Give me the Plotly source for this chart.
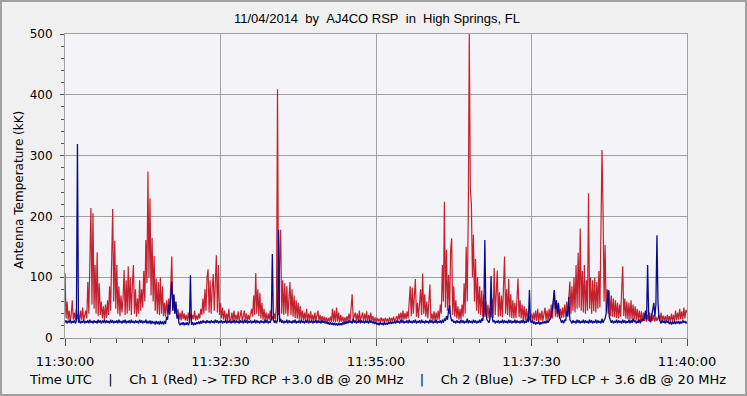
import plotly.graph_objects as go

# Time axis: seconds after 11:30:00 UTC (1 sample per second)
seconds = list(range(0, 601))

# Ch 1 (Red) antenna temperature (kK), one list per minute
red_1130 = [107, 32, 60, 30, 45, 28, 38, 62, 30, 42,
            29, 48, 31, 40, 28, 45, 30, 50, 29, 38,
            45, 32, 92, 40, 150, 214, 55, 205, 48, 120,
            40, 141, 36, 90, 38, 60, 32, 52, 30, 55,
            33, 62, 38, 85, 45, 150, 212, 60, 160, 48,
            120, 40, 85, 36, 70, 42, 65, 112, 38, 95]
red_1131 = [40, 118, 45, 100, 38, 88, 120, 40, 80, 35,
            65, 40, 95, 45, 80, 50, 110, 60, 161, 90,
            274, 100, 230, 70, 165, 60, 135, 45, 98, 40,
            92, 38, 100, 40, 85, 36, 58, 35, 62, 40,
            65, 38, 80, 134, 45, 70, 40, 55, 35, 48,
            30, 42, 29, 45, 31, 40, 29, 38, 28, 42]
red_1132 = [30, 40, 28, 38, 31, 45, 29, 37, 30, 40,
            32, 48, 38, 65, 40, 80, 45, 100, 113, 42,
            95, 40, 82, 105, 45, 90, 136, 42, 120, 38,
            57, 32, 50, 30, 45, 29, 40, 28, 48, 30,
            29, 42, 28, 45, 30, 38, 29, 44, 28, 36,
            46, 28, 37, 45, 29, 40, 28, 38, 30, 42]
red_1133 = [48, 35, 70, 38, 107, 40, 80, 36, 74, 32,
            58, 30, 48, 29, 42, 28, 40, 30, 45, 29,
            36, 28, 40, 30, 55, 409, 38, 120, 178, 40,
            95, 38, 90, 40, 85, 36, 78, 92, 38, 80,
            35, 70, 33, 62, 32, 58, 30, 52, 30, 45,
            29, 42, 28, 48, 29, 40, 28, 44, 29, 38]
red_1134 = [28, 42, 29, 37, 45, 28, 38, 27, 36, 28,
            35, 27, 34, 26, 33, 27, 35, 26, 48, 27,
            45, 26, 50, 27, 42, 26, 38, 27, 35, 26,
            34, 27, 36, 28, 40, 28, 45, 72, 30, 38,
            42, 28, 40, 27, 45, 28, 38, 42, 28, 40,
            29, 44, 28, 38, 29, 42, 28, 36, 27, 34]
red_1135 = [26, 33, 27, 32, 26, 34, 27, 32, 26, 33,
            27, 32, 26, 34, 27, 33, 28, 35, 27, 34,
            36, 28, 40, 30, 42, 29, 45, 30, 41, 31,
            44, 32, 62, 85, 36, 83, 40, 70, 97, 35,
            58, 33, 62, 80, 38, 106, 40, 72, 35, 60,
            32, 62, 88, 30, 40, 29, 44, 28, 42, 30]
red_1136 = [45, 30, 55, 40, 120, 60, 224, 50, 145, 45,
            104, 40, 145, 164, 38, 85, 35, 62, 32, 52,
            30, 48, 31, 55, 35, 90, 40, 150, 60, 200,
            500, 245, 222, 100, 170, 60, 130, 45, 100, 40,
            85, 38, 78, 36, 72, 35, 60, 33, 55, 32,
            50, 35, 65, 33, 115, 38, 80, 111, 35, 75]
red_1137 = [36, 70, 34, 88, 134, 40, 80, 38, 97, 35,
            72, 33, 62, 32, 58, 33, 75, 98, 34, 62,
            32, 55, 30, 52, 29, 48, 30, 45, 29, 36,
            40, 28, 42, 29, 45, 28, 48, 27, 42, 29,
            45, 28, 42, 50, 29, 45, 28, 48, 30, 55,
            32, 60, 78, 35, 62, 34, 55, 32, 48, 33]
red_1138 = [50, 34, 55, 36, 60, 38, 65, 93, 40, 85,
            45, 100, 42, 120, 48, 140, 50, 180, 45, 110,
            42, 120, 40, 95, 45, 238, 48, 100, 40, 95,
            44, 99, 42, 92, 48, 110, 50, 150, 309, 210,
            60, 153, 45, 80, 40, 78, 36, 70, 35, 65,
            34, 62, 33, 58, 32, 55, 35, 80, 118, 36]
red_1139 = [65, 32, 60, 31, 58, 30, 62, 31, 55, 30,
            52, 29, 48, 28, 45, 28, 44, 27, 42, 28,
            40, 27, 38, 28, 42, 27, 40, 28, 38, 27,
            35, 28, 33, 38, 28, 42, 27, 37, 28, 36,
            28, 38, 27, 36, 28, 40, 27, 38, 28, 45,
            29, 42, 30, 48, 31, 44, 30, 50, 32, 46,
            42]

# Ch 2 (Blue) antenna temperature (kK), one list per minute
blue_1130 = [25, 29, 24, 28, 26, 30, 24, 28, 25, 29,
             24, 28, 319, 25, 29, 24, 28, 25, 30, 24,
             28, 25, 29, 24, 30, 25, 28, 24, 29, 25,
             28, 24, 30, 25, 29, 24, 28, 26, 30, 24,
             29, 25, 28, 24, 30, 25, 29, 24, 28, 25,
             29, 24, 30, 25, 28, 24, 29, 25, 30, 24]
blue_1131 = [28, 25, 29, 24, 30, 25, 28, 24, 29, 25,
             28, 24, 30, 25, 29, 24, 28, 25, 30, 24,
             28, 24, 29, 23, 28, 24, 27, 22, 28, 23,
             27, 22, 28, 23, 27, 22, 28, 23, 35, 30,
             55, 40, 70, 93, 45, 72, 40, 60, 32, 38,
             24, 21, 25, 22, 26, 21, 25, 22, 26, 21]
blue_1132 = [25, 103, 22, 26, 21, 25, 22, 26, 23, 27,
             23, 28, 24, 29, 25, 28, 24, 29, 25, 28,
             24, 29, 25, 28, 24, 30, 25, 29, 24, 28,
             25, 29, 24, 28, 25, 30, 24, 28, 25, 29,
             24, 28, 25, 30, 24, 29, 25, 28, 24, 29,
             25, 28, 24, 30, 25, 29, 24, 28, 25, 29]
blue_1133 = [24, 28, 25, 30, 24, 29, 25, 28, 24, 29,
             25, 28, 24, 30, 25, 29, 24, 28, 25, 32,
             138, 30, 25, 29, 24, 30, 178, 26, 32, 25,
             29, 24, 28, 25, 30, 24, 29, 25, 28, 24,
             29, 25, 30, 24, 28, 25, 29, 24, 30, 25,
             28, 24, 29, 25, 30, 24, 28, 25, 29, 24]
blue_1134 = [28, 25, 30, 24, 29, 25, 28, 24, 29, 25,
             28, 24, 27, 23, 26, 22, 26, 22, 25, 21,
             25, 21, 24, 20, 25, 21, 24, 21, 26, 22,
             27, 23, 28, 24, 29, 25, 28, 24, 32, 25,
             29, 24, 28, 25, 30, 24, 29, 25, 28, 24,
             29, 25, 28, 24, 30, 25, 28, 24, 27, 23]
blue_1135 = [26, 22, 25, 21, 26, 22, 25, 21, 26, 22,
             25, 22, 26, 23, 27, 23, 27, 24, 28, 24,
             29, 25, 28, 24, 30, 25, 29, 24, 28, 25,
             29, 24, 30, 25, 28, 24, 29, 25, 30, 24,
             28, 25, 29, 24, 30, 25, 28, 24, 29, 25,
             28, 24, 30, 25, 29, 24, 28, 25, 30, 24]
blue_1136 = [28, 25, 29, 24, 30, 25, 32, 28, 36, 30,
             45, 54, 35, 28, 30, 25, 28, 24, 29, 25,
             28, 24, 30, 25, 29, 24, 28, 25, 32, 24,
             29, 25, 28, 24, 30, 25, 29, 24, 28, 25,
             30, 25, 32, 28, 45, 161, 40, 30, 28, 25,
             32, 102, 35, 26, 29, 24, 28, 25, 29, 24]
blue_1137 = [28, 25, 30, 24, 29, 25, 28, 24, 30, 25,
             29, 24, 28, 25, 30, 24, 29, 25, 28, 24,
             29, 25, 30, 24, 28, 25, 32, 26, 79, 28,
             25, 29, 23, 27, 22, 26, 23, 27, 22, 26,
             23, 27, 24, 28, 24, 29, 25, 28, 32, 35,
             45, 60, 79, 48, 62, 40, 58, 35, 30, 25]
blue_1138 = [29, 24, 30, 28, 45, 35, 68, 30, 28, 24,
             29, 25, 28, 24, 30, 25, 29, 24, 28, 25,
             30, 24, 29, 25, 28, 24, 30, 25, 29, 24,
             28, 25, 30, 24, 29, 25, 28, 24, 32, 25,
             29, 32, 40, 55, 79, 35, 28, 25, 29, 24,
             28, 25, 30, 24, 29, 25, 28, 24, 30, 25]
blue_1139 = [29, 24, 28, 25, 30, 24, 29, 25, 32, 26,
             29, 24, 28, 25, 30, 24, 29, 32, 28, 35,
             45, 30, 120, 40, 28, 26, 35, 45, 58, 35,
             55, 169, 60, 32, 28, 24, 29, 25, 28, 24,
             29, 25, 28, 23, 27, 22, 27, 23, 28, 23,
             27, 24, 28, 23, 27, 24, 29, 25, 28, 24,
             27]

x_tick_vals = [0, 150, 300, 450, 600]
x_tick_text = ["11:30:00", "11:32:30", "11:35:00", "11:37:30", "11:40:00"]
y_tick_vals = [0, 100, 200, 300, 400, 500]

red = (red_1130 + red_1131 + red_1132 + red_1133 + red_1134 +
       red_1135 + red_1136 + red_1137 + red_1138 + red_1139)
blue = (blue_1130 + blue_1131 + blue_1132 + blue_1133 + blue_1134 +
        blue_1135 + blue_1136 + blue_1137 + blue_1138 + blue_1139)

RED = "#C4202E"
BLUE = "#0A0A8E"
GRID = "#A0A0A0"
TICKC = "#505050"
SANS = "DejaVu Sans, Verdana, sans-serif"
ARIAL = "Liberation Sans, Arial, sans-serif"

fig = go.Figure()
fig.add_trace(go.Scatter(x=seconds, y=red, mode="lines",
                         line=dict(color=RED, width=1.2), hoverinfo="skip"))
fig.add_trace(go.Scatter(x=seconds, y=blue, mode="lines",
                         line=dict(color=BLUE, width=1.3), hoverinfo="skip"))

W, H = 747, 396
ml, mr, mt, mb = 65, 60, 34, 58
pw, ph = W - ml - mr, H - mt - mb

nb = "\u00a0"
title_txt = f"11/04/2014{nb*2}by{nb*2}AJ4CO RSP{nb*2}in{nb*2}High Springs, FL"
bottom_txt = (f"Time UTC{nb*4}|{nb*4}Ch 1 (Red) -> TFD RCP +3.0 dB @ 20 MHz{nb*4}|"
              f"{nb*4}Ch 2 (Blue){nb*2}-> TFD LCP + 3.6 dB @ 20 MHz")

fig.update_layout(
    width=W, height=H,
    margin=dict(l=ml, r=mr, t=mt, b=mb, pad=0, autoexpand=False),
    paper_bgcolor="#F0F0F0",
    plot_bgcolor="#F4F4F8",
    showlegend=False,
    font=dict(family=SANS, size=12, color="#000000"),
    xaxis=dict(range=[0, 600], tickvals=x_tick_vals, ticktext=x_tick_text,
               automargin=False,
               showgrid=True, gridcolor=GRID, gridwidth=1, zeroline=False,
               showline=True, linecolor=GRID, linewidth=1, mirror=True,
               ticks="outside", ticklen=7, tickcolor=TICKC,
               ticklabelstandoff=4,
               minor=dict(tickvals=list(range(0, 601, 25)), ticks="outside",
                          ticklen=4, tickcolor=TICKC, showgrid=False),
               tickfont=dict(size=13, family=SANS)),
    yaxis=dict(range=[0, 500], tickvals=y_tick_vals, automargin=False,
               showgrid=True, gridcolor=GRID, gridwidth=1, zeroline=False,
               showline=True, linecolor=GRID, linewidth=1, mirror=True,
               ticks="outside", ticklen=4, tickcolor=TICKC,
               ticklabelstandoff=5,
               minor=dict(dtick=20, ticks="outside", ticklen=3,
                          tickcolor=TICKC, showgrid=False),
               tickfont=dict(size=12, family=SANS)),
    annotations=[
        dict(text=title_txt, xref="paper", yref="paper",
             x=(376.5 - ml) / pw, y=1 + (mt - 18) / ph, xanchor="center",
             yanchor="middle", showarrow=False, font=dict(size=13, family=ARIAL)),
        dict(text="Antenna Temperature (kK)", xref="paper", yref="paper",
             x=-(ml - 19) / pw, y=(338 - 190) / ph, xanchor="center",
             yanchor="middle", textangle=-90, showarrow=False,
             font=dict(size=12, family=SANS)),
        dict(text=bottom_txt, xref="paper", yref="paper",
             x=(377 - ml) / pw, y=-(379 - mt - ph) / ph, xanchor="center",
             yanchor="middle", showarrow=False, font=dict(size=13, family=SANS)),
    ],
    shapes=[dict(type="rect", xref="paper", yref="paper",
                 x0=-(ml - 1) / pw, x1=1 + (mr - 1) / pw,
                 y0=-(mb - 1) / ph, y1=1 + (mt - 1) / ph,
                 line=dict(color="#A0A0A0", width=2), layer="below")],
)

fig.write_html("out.html",
               config={"displayModeBar": False},
               post_script="document.body.style.margin='0px';"
                           "document.body.style.overflow='hidden';")
